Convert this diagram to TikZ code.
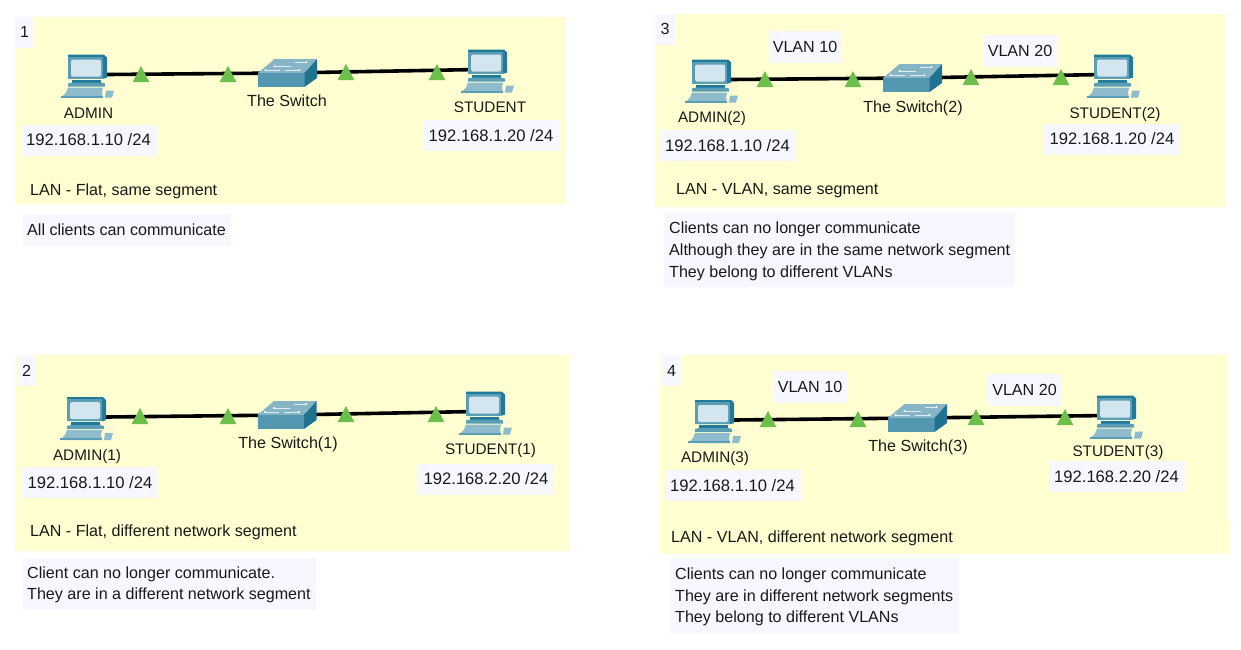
\documentclass[tikz,border=0pt]{standalone}
\usepackage{fontspec}
\setmainfont{Liberation Sans}
\definecolor{panelbg}{HTML}{FFFFD2}
\definecolor{notebg}{HTML}{F7F8FF}
\definecolor{tri}{HTML}{6CBF4B}
\definecolor{pcdark}{HTML}{1F7B99}
\definecolor{pcmid}{HTML}{5A9DB5}
\definecolor{pclight}{HTML}{8FBCCC}
\definecolor{pcscreen}{HTML}{D3E5EE}
\definecolor{swtop}{HTML}{86B5C6}
\definecolor{swfront}{HTML}{5497B0}
\definecolor{swside}{HTML}{1F7391}
\tikzset{
  x=1pt,y=-1pt,
  panel/.style={fill=panelbg,draw=none},
  link/.style={draw=black,line width=3.6pt},
  lbl/.style={font=\fontsize{16.1}{19}\selectfont,text=black!90,inner sep=0pt,text height=13pt,text depth=1.5pt},
  devlbl/.style={lbl,font=\fontsize{15.3}{19}\selectfont},
  chip/.style={lbl,fill=notebg,minimum height=31pt,inner xsep=0pt},
  numchip/.style={chip,minimum width=19pt,minimum height=31pt},
  ipchip/.style={chip,minimum width=136pt,font=\fontsize{16.6}{19}\selectfont},
  vlanchip/.style={chip,minimum width=73pt,minimum height=32pt},
  status/.pic={\fill[tri] (-8.3,8)--(0,-8)--(8.3,8)--cycle;},
  pc/.pic={
    \fill[pcdark] (-39,-20)--(-3,-20)--(0,-17)--(0,3)--(-3,4)--(-39,4)--cycle;
    \fill[pcmid] (-39,-18)--(-4,-18)--(-4,4)--(-39,4)--cycle;
    \fill[pcscreen,rounded corners=1.5pt] (-36,-15)--(-6,-15)--(-6,2)--(-36,2)--cycle;
    \fill[pcdark] (-35,5)--(-6,5)--(-6,8)--(-35,8)--cycle;
    \fill[pcmid] (-35,8)--(-6,8)--(-2,9)--(-2,12)--(-39,12)--(-39,9)--cycle;
    \fill[pclight] (-39,13)--(-4,13)--(-5,18)--(-4,23)--(-46,23)--(-41,18)--cycle;
    \fill[pcmid] (-46,21)--(-4,21)--(-4,23)--(-46,23)--cycle;
    \fill[pclight] (-1,16)--(7,16)--(5,23)--(-2,23)--cycle;
    \draw[white!70!pclight,line width=.5pt] (0,12) .. controls (3,9) and (8,10) .. (7,14);
  },
  sw/.pic={
    \fill[swtop] (-29.5,0)--(-13,-14)--(29.5,-14)--(17,0)--cycle;
    \fill[swfront] (-29.5,0)--(17,0)--(17,14)--(-29.5,14)--cycle;
    \fill[swside] (17,0)--(29.5,-14)--(29.5,5)--(17,14)--cycle;
    \draw[white!75!swtop,line width=.7pt] (-22,-3)--(-8,-3) (-13,-7)--(3,-7) (-3,-3)--(12,-3) (7,-11)--(19,-11);
    \fill[white] (-22,-3) circle (1.2) (-13,-7) circle (1.2) (12,-3) circle (1.2) (19,-11) circle (1.2);
  }
}
\begin{document}
\begin{tikzpicture}
\useasboundingbox (0,0) rectangle (1241,649);
\fill[white] (0,0) rectangle (1241,649);
% panels
\path[panel] (15,17) rectangle (565,204);
\path[panel] (655,14) rectangle (1226,207);
\path[panel] (15,355) rectangle (570,551);
\path[panel] (660,355) rectangle (1227,521);
\path[panel] (660,521) rectangle (1229,554);
% panel numbers
\node[numchip] (n1) at (24.5,32) {1};
\node[numchip] (n3) at (665,29) {3};
\node[numchip] (n2) at (26.5,370.5) {2};
\node[numchip] (n4) at (671.5,370.5) {4};
% device anchors
\coordinate (a1) at (107,74.5); \coordinate (s1) at (287.5,73); \coordinate (b1) at (507,69.5);
\coordinate (a2) at (106,417); \coordinate (s2) at (287,415); \coordinate (b2) at (505,411.5);
\coordinate (a3) at (731,79.5); \coordinate (s3) at (912.5,78); \coordinate (b3) at (1133,74.5);
\coordinate (a4) at (734,420); \coordinate (s4) at (917.5,418); \coordinate (b4) at (1136,415.5);
% links
\foreach \i in {1,2,3,4}{
  \draw[link] (a\i) -- (s\i);
  \draw[link] (s\i) -- ([xshift=-30pt]b\i);
}
% status triangles
\foreach \p in {(141,74),(228,74),(346,72),(437,72),
                (140,416),(228,416),(346,414),(436,414),
                (765,79),(853,79),(971,77),(1061,77),
                (768,419),(858,419),(976,417),(1065,417)}
  \pic at \p {status};
% devices
\foreach \i in {1,2,3,4}{
  \pic at (a\i) {pc};
  \pic at (s\i) {sw};
  \pic at (b\i) {pc};
}
% device labels
\node[devlbl] (la1) at (88.5,113) {ADMIN};
\node[lbl] (ls1) at (287,101) {The Switch};
\node[devlbl] (lb1) at (490,107) {STUDENT};
\node[devlbl] (la2) at (87,455) {ADMIN(1)};
\node[lbl] (ls2) at (288,443) {The Switch(1)};
\node[devlbl] (lb2) at (490.5,449) {STUDENT(1)};
\node[devlbl] (la3) at (712,117) {ADMIN(2)};
\node[lbl] (ls3) at (913,107) {The Switch(2)};
\node[devlbl] (lb3) at (1115,113) {STUDENT(2)};
\node[devlbl] (la4) at (715,457) {ADMIN(3)};
\node[lbl] (ls4) at (918,446) {The Switch(3)};
\node[devlbl] (lb4) at (1118,451) {STUDENT(3)};
% addresses
\node[ipchip] (ip1a) at (88.5,140) {192.168.1.10 /24};
\node[ipchip] (ip1b) at (491,135.5) {192.168.1.20 /24};
\node[ipchip] (ip2a) at (90,482.5) {192.168.1.10 /24};
\node[ipchip] (ip2b) at (486,479) {192.168.2.20 /24};
\node[ipchip] (ip3a) at (727.5,145.5) {192.168.1.10 /24};
\node[ipchip] (ip3b) at (1112,139) {192.168.1.20 /24};
\node[ipchip] (ip4a) at (732.5,485.5) {192.168.1.10 /24};
\node[ipchip] (ip4b) at (1116.5,476.5) {192.168.2.20 /24};
% VLAN chips
\node[vlanchip] (v31) at (805,47) {VLAN 10};
\node[vlanchip] (v32) at (1020,50.5) {VLAN 20};
\node[vlanchip] (v41) at (810,387) {VLAN 10};
\node[vlanchip] (v42) at (1024.5,390) {VLAN 20};
% panel captions
\node[lbl,anchor=west] (c1) at (30,190) {LAN - Flat, same segment};
\node[lbl,anchor=west] (c2) at (30,531) {LAN - Flat, different network segment};
\node[lbl,anchor=west] (c3) at (676,189) {LAN - VLAN, same segment};
\node[lbl,anchor=west] (c4) at (671,537) {LAN - VLAN, different network segment};
% notes
\fill[notebg] (23,214) rectangle (231,246);
\node[lbl,anchor=west] (t1) at (27,230) {All clients can communicate};
\fill[notebg] (23,558) rectangle (316,610);
\node[lbl,anchor=west] (t2a) at (27,573) {Client can no longer communicate.};
\node[lbl,anchor=west] (t2b) at (27,594) {They are in a different network segment};
\fill[notebg] (664,213) rectangle (1015,287);
\node[lbl,anchor=west] (t3a) at (669,228) {Clients can no longer communicate};
\node[lbl,anchor=west] (t3b) at (669,250) {Although they are in the same network segment};
\node[lbl,anchor=west] (t3c) at (669,272) {They belong to different VLANs};
\fill[notebg] (670,558) rectangle (959,633);
\node[lbl,anchor=west] (t4a) at (675,574) {Clients can no longer communicate};
\node[lbl,anchor=west] (t4b) at (675,596) {They are in different network segments};
\node[lbl,anchor=west] (t4c) at (675,617) {They belong to different VLANs};
\end{tikzpicture}
\end{document}
